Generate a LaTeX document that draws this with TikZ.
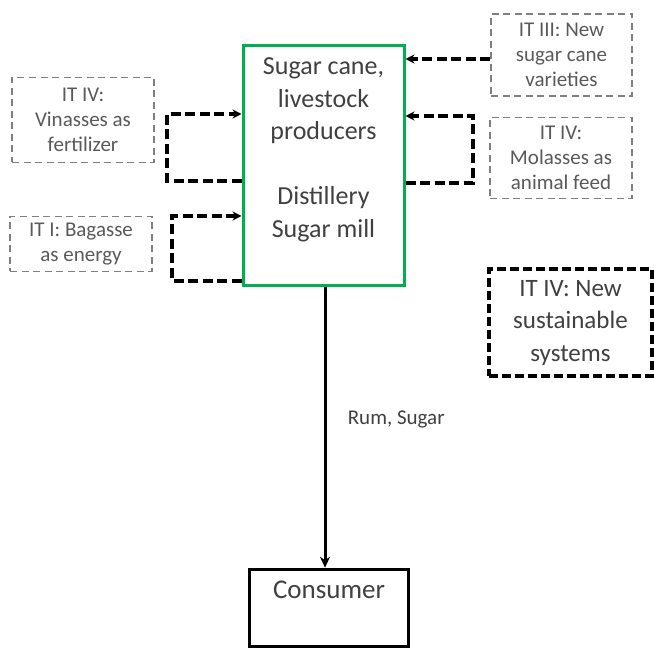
\documentclass[tikz,border=0pt]{standalone}
\usepackage{fontspec}
\setmainfont{Carlito}
\usetikzlibrary{arrows.meta}
\definecolor{boxgreen}{HTML}{00B050}
\definecolor{txtdark}{HTML}{404040}
\definecolor{txtgray}{HTML}{595959}
\definecolor{dashgray}{HTML}{7F7F7F}
\tikzset{
  mainbox/.style={draw=boxgreen, line width=3pt, minimum width=161pt, minimum height=240pt, inner sep=0pt},
  endbox/.style={draw=black, line width=3.5pt, minimum width=159pt, minimum height=77pt, inner sep=0pt},
  itbox/.style={draw=dashgray, line width=1.8pt, dash pattern=on 7pt off 4.5pt, align=center,
    text=txtgray, inner sep=0pt, font=\fontsize{21}{25}\selectfont},
  bigdash/.style={draw=black, line width=3.5pt, dash pattern=on 9pt off 4pt, align=center,
    text=txtdark, inner sep=0pt, font=\fontsize{25}{32.5}\selectfont},
  conn/.style={line width=3.5pt, dash pattern=on 10pt off 4.5pt, -{Stealth[length=9pt,width=9pt]}},
  flow/.style={line width=3pt, -{Stealth[length=11pt,width=10pt]}},
}
\begin{document}
\begin{tikzpicture}[x=1pt,y=-1pt]
\useasboundingbox (0,0) rectangle (654,652);

% central actors
\node[mainbox] (main) at (323.5,166) {};
\node[align=center, text=txtdark, font=\fontsize{26}{32.5}\selectfont] (maintext) at (323.5,150)
  {Sugar cane,\\livestock\\producers\\[32.5pt]Distillery\\Sugar mill};
\node[endbox] (consumer) at (329,608) {};
\node[text=txtdark, font=\fontsize{27}{32}\selectfont] (context) at (329,590) {Consumer};

% innovation boxes
\node[itbox, minimum width=141pt, minimum height=82pt] (it3) at (561.5,55)
  {IT III: New\\sugar cane\\varieties};
\node[itbox, minimum width=142pt, minimum height=81pt] (mol) at (561,158)
  {IT IV:\\Molasses as\\animal feed};
\node[itbox, minimum width=142pt, minimum height=85pt] (vin) at (83,120)
  {IT IV:\\Vinasses as\\fertilizer};
\node[itbox, minimum width=142pt, minimum height=55pt] (bag) at (81,244)
  {IT I: Bagasse\\as energy};
\node[bigdash, minimum width=163pt, minimum height=107pt] (sust) at (570.5,322.5)
  {IT IV: New\\sustainable\\systems};

% bend points of the loops
\coordinate (r1) at (473,183);
\coordinate (r2) at (473,116);
\coordinate (l1) at (167,181);
\coordinate (l2) at (167,114);
\coordinate (b1) at (172,281);
\coordinate (b2) at (172,216);

% flows into the mill
\draw[conn] ([yshift=-4pt]it3.west) -- ([yshift=-4pt]it3.west -| main.east);
\draw[conn] (main.east |- r1) -- (r1) -- (r2) -- (main.east |- r2);
\draw[conn] (main.west |- l1) -- (l1) -- (l2) -- (main.west |- l2);
\draw[conn] (main.west |- b1) -- (b1) -- (b2) -- (main.west |- b2);

% products to the consumer
\draw[flow] ([xshift=1.5pt]main.south) -- ([xshift=1.5pt]main.south |- consumer.north)
  node[pos=0.47, right=18pt, text=txtdark, font=\fontsize{21}{25}\selectfont] (prod) {Rum, Sugar};
\end{tikzpicture}
\end{document}
